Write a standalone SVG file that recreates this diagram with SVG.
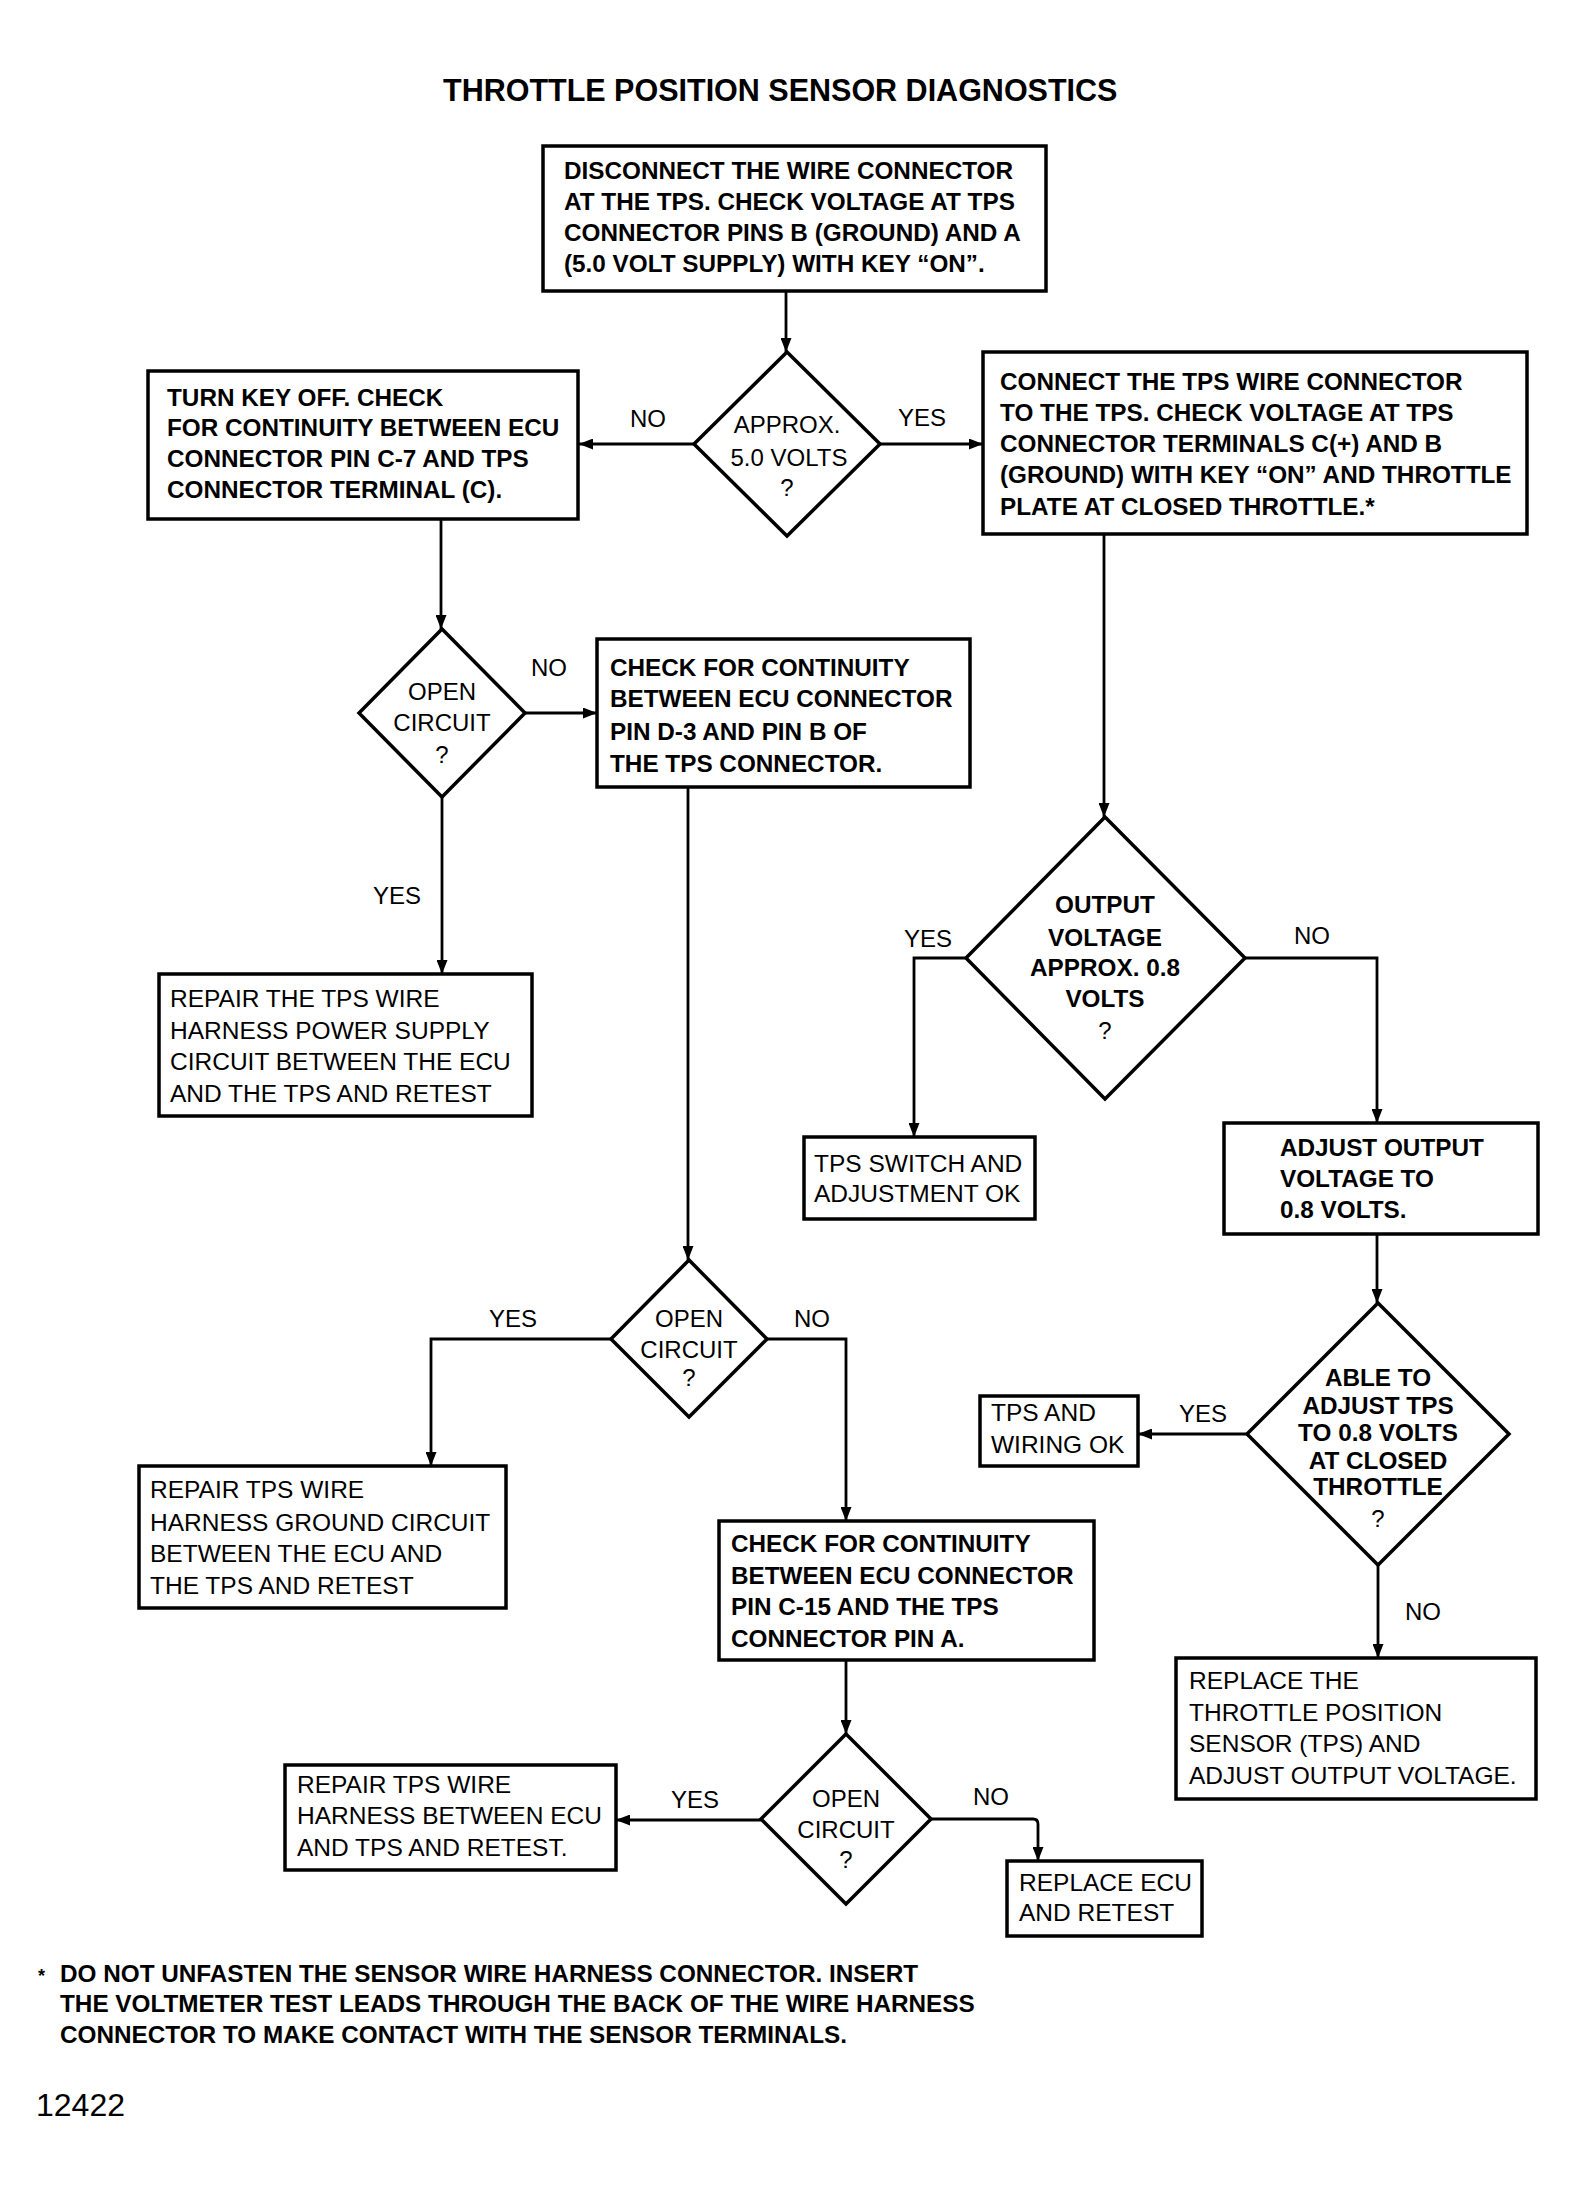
<svg xmlns="http://www.w3.org/2000/svg" width="1576" height="2191" viewBox="0 0 1576 2191">
<style>
text{font-family:"Liberation Sans",Arial,Helvetica,sans-serif;fill:#000}
.t{font-weight:bold;font-size:30.5px}
.b{font-weight:bold;font-size:24.3px}
.r{font-weight:normal;font-size:24.5px}
.l{font-weight:normal;font-size:24px}
.c{text-anchor:middle}
.box{fill:#fff;stroke:#000;stroke-width:3.5}
.dia{fill:#fff;stroke:#000;stroke-width:3.5;stroke-linejoin:miter}
.con{fill:none;stroke:#000;stroke-width:2.8;marker-end:url(#ah)}
</style>
<defs>
<marker id="ah" markerUnits="userSpaceOnUse" markerWidth="14" markerHeight="11" refX="14" refY="5.5" orient="auto">
<path d="M0,0 L14,5.5 L0,11 z" fill="#000"/>
</marker>
</defs>
<rect x="0" y="0" width="1576" height="2191" fill="#fff"/>
<text class="t" x="443" y="101">THROTTLE POSITION SENSOR DIAGNOSTICS</text>

<g id="connectors">
<path class="con" d="M786,291 V352"/>
<path class="con" d="M694,444 H579"/>
<path class="con" d="M880,444 H983"/>
<path class="con" d="M1104,534 V817"/>
<path class="con" d="M441,519 V629"/>
<path class="con" d="M525,713 H597"/>
<path class="con" d="M442,797 V974"/>
<path class="con" d="M688,787 V1260"/>
<path class="con" d="M611,1339 H431 V1466"/>
<path class="con" d="M767,1339 H846 V1521"/>
<path class="con" d="M846,1660 V1734"/>
<path class="con" d="M761,1820 H616"/>
<path class="con" d="M931,1819 H1033 Q1038,1819 1038,1824 V1861"/>
<path class="con" d="M966,958 H914 V1137"/>
<path class="con" d="M1245,958 H1377 V1123"/>
<path class="con" d="M1377,1234 V1303"/>
<path class="con" d="M1247,1434 H1138"/>
<path class="con" d="M1378,1565 V1658"/>
</g>

<g id="labels">
<text class="l" x="630" y="427">NO</text>
<text class="l" x="898" y="426">YES</text>
<text class="l" x="531" y="676">NO</text>
<text class="l" x="373" y="904">YES</text>
<text class="l" x="489" y="1327">YES</text>
<text class="l" x="794" y="1327">NO</text>
<text class="l" x="671" y="1808">YES</text>
<text class="l" x="973" y="1805">NO</text>
<text class="l" x="904" y="947">YES</text>
<text class="l" x="1294" y="944">NO</text>
<text class="l" x="1179" y="1422">YES</text>
<text class="l" x="1405" y="1620">NO</text>
</g>

<g id="n1">
<rect class="box" x="543" y="146" width="503" height="145"/>
<text class="b" x="564" y="179">DISCONNECT THE WIRE CONNECTOR</text>
<text class="b" x="564" y="210">AT THE TPS. CHECK VOLTAGE AT TPS</text>
<text class="b" x="564" y="241">CONNECTOR PINS B (GROUND) AND A</text>
<text class="b" x="564" y="272">(5.0 VOLT SUPPLY) WITH KEY “ON”.</text>
</g>

<g id="d1">
<polygon class="dia" points="787,352 880,444 787,536 694,444"/>
<text class="l c" x="787" y="433">APPROX.</text>
<text class="l c" x="789" y="466">5.0 VOLTS</text>
<text class="l c" x="787" y="496">?</text>
</g>

<g id="n2">
<rect class="box" x="148" y="371" width="430" height="148"/>
<text class="b" x="167" y="406">TURN KEY OFF. CHECK</text>
<text class="b" x="167" y="436">FOR CONTINUITY BETWEEN ECU</text>
<text class="b" x="167" y="467">CONNECTOR PIN C-7 AND TPS</text>
<text class="b" x="167" y="498">CONNECTOR TERMINAL (C).</text>
</g>

<g id="n3">
<rect class="box" x="983" y="352" width="544" height="182"/>
<text class="b" x="1000" y="390">CONNECT THE TPS WIRE CONNECTOR</text>
<text class="b" x="1000" y="421">TO THE TPS. CHECK VOLTAGE AT TPS</text>
<text class="b" x="1000" y="452">CONNECTOR TERMINALS C(+) AND B</text>
<text class="b" x="1000" y="483">(GROUND) WITH KEY “ON” AND THROTTLE</text>
<text class="b" x="1000" y="515">PLATE AT CLOSED THROTTLE.*</text>
</g>

<g id="d2">
<polygon class="dia" points="442,629 525,713 442,797 359,713"/>
<text class="l c" x="442" y="700">OPEN</text>
<text class="l c" x="442" y="731">CIRCUIT</text>
<text class="l c" x="442" y="763">?</text>
</g>

<g id="n4">
<rect class="box" x="597" y="639" width="373" height="148"/>
<text class="b" x="610" y="676">CHECK FOR CONTINUITY</text>
<text class="b" x="610" y="707">BETWEEN ECU CONNECTOR</text>
<text class="b" x="610" y="740">PIN D-3 AND PIN B OF</text>
<text class="b" x="610" y="772">THE TPS CONNECTOR.</text>
</g>

<g id="n5">
<rect class="box" x="159" y="974" width="373" height="142"/>
<text class="r" x="170" y="1007">REPAIR THE TPS WIRE</text>
<text class="r" x="170" y="1039">HARNESS POWER SUPPLY</text>
<text class="r" x="170" y="1070">CIRCUIT BETWEEN THE ECU</text>
<text class="r" x="170" y="1102">AND THE TPS AND RETEST</text>
</g>

<g id="d3">
<polygon class="dia" points="689,1260 767,1339 689,1417 611,1339"/>
<text class="l c" x="689" y="1327">OPEN</text>
<text class="l c" x="689" y="1358">CIRCUIT</text>
<text class="l c" x="689" y="1386">?</text>
</g>

<g id="n6">
<rect class="box" x="139" y="1466" width="367" height="142"/>
<text class="r" x="150" y="1498">REPAIR TPS WIRE</text>
<text class="r" x="150" y="1531">HARNESS GROUND CIRCUIT</text>
<text class="r" x="150" y="1562">BETWEEN THE ECU AND</text>
<text class="r" x="150" y="1594">THE TPS AND RETEST</text>
</g>

<g id="n7">
<rect class="box" x="719" y="1521" width="375" height="139"/>
<text class="b" x="731" y="1552">CHECK FOR CONTINUITY</text>
<text class="b" x="731" y="1584">BETWEEN ECU CONNECTOR</text>
<text class="b" x="731" y="1615">PIN C-15 AND THE TPS</text>
<text class="b" x="731" y="1647">CONNECTOR PIN A.</text>
</g>

<g id="d4">
<polygon class="dia" points="846,1734 931,1819 846,1904 761,1819"/>
<text class="l c" x="846" y="1807">OPEN</text>
<text class="l c" x="846" y="1838">CIRCUIT</text>
<text class="l c" x="846" y="1868">?</text>
</g>

<g id="n8">
<rect class="box" x="285" y="1765" width="331" height="105"/>
<text class="r" x="297" y="1793">REPAIR TPS WIRE</text>
<text class="r" x="297" y="1824">HARNESS BETWEEN ECU</text>
<text class="r" x="297" y="1856">AND TPS AND RETEST.</text>
</g>

<g id="n9">
<rect class="box" x="1007" y="1861" width="195" height="75"/>
<text class="r" x="1019" y="1891">REPLACE ECU</text>
<text class="r" x="1019" y="1921">AND RETEST</text>
</g>

<g id="d5">
<polygon class="dia" points="1105,817 1245,958 1105,1099 966,958"/>
<text class="b c" x="1105" y="913">OUTPUT</text>
<text class="b c" x="1105" y="946">VOLTAGE</text>
<text class="b c" x="1105" y="976">APPROX. 0.8</text>
<text class="b c" x="1105" y="1007">VOLTS</text>
<text class="l c" x="1105" y="1039">?</text>
</g>

<g id="n10">
<rect class="box" x="804" y="1137" width="231" height="82"/>
<text class="r" x="814" y="1172">TPS SWITCH AND</text>
<text class="r" x="814" y="1202">ADJUSTMENT OK</text>
</g>

<g id="n11">
<rect class="box" x="1224" y="1123" width="314" height="111"/>
<text class="b" x="1280" y="1156">ADJUST OUTPUT</text>
<text class="b" x="1280" y="1187">VOLTAGE TO</text>
<text class="b" x="1280" y="1218">0.8 VOLTS.</text>
</g>

<g id="d6">
<polygon class="dia" points="1378,1303 1509,1434 1378,1565 1247,1434"/>
<text class="b c" x="1378" y="1386">ABLE TO</text>
<text class="b c" x="1378" y="1414">ADJUST TPS</text>
<text class="b c" x="1378" y="1441">TO 0.8 VOLTS</text>
<text class="b c" x="1378" y="1469">AT CLOSED</text>
<text class="b c" x="1378" y="1495">THROTTLE</text>
<text class="l c" x="1378" y="1527">?</text>
</g>

<g id="n12">
<rect class="box" x="980" y="1396" width="158" height="70"/>
<text class="r" x="991" y="1421">TPS AND</text>
<text class="r" x="991" y="1453">WIRING OK</text>
</g>

<g id="n13">
<rect class="box" x="1176" y="1658" width="360" height="141"/>
<text class="r" x="1189" y="1689">REPLACE THE</text>
<text class="r" x="1189" y="1721">THROTTLE POSITION</text>
<text class="r" x="1189" y="1752">SENSOR (TPS) AND</text>
<text class="r" x="1189" y="1784">ADJUST OUTPUT VOLTAGE.</text>
</g>

<g id="footnote">
<text class="b" x="38" y="1982" style="font-size:18px">*</text>
<text class="b" x="60" y="1982">DO NOT UNFASTEN THE SENSOR WIRE HARNESS CONNECTOR. INSERT</text>
<text class="b" x="60" y="2012">THE VOLTMETER TEST LEADS THROUGH THE BACK OF THE WIRE HARNESS</text>
<text class="b" x="60" y="2043">CONNECTOR TO MAKE CONTACT WITH THE SENSOR TERMINALS.</text>
<text class="r" x="36" y="2116" style="font-size:32px">12422</text>
</g>
</svg>
